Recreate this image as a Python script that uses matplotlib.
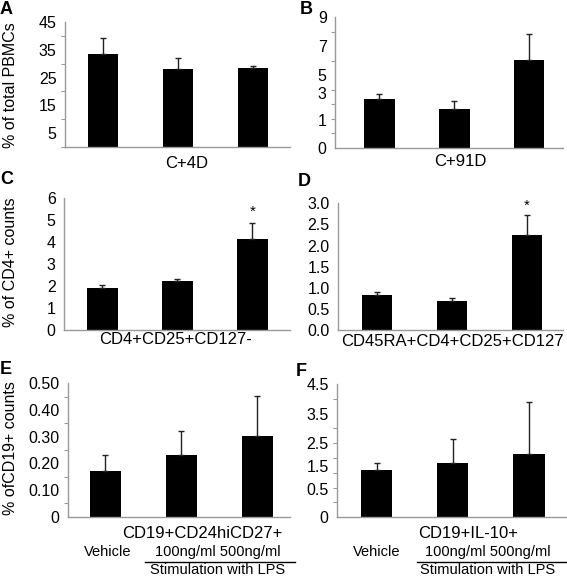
import numpy as np
import matplotlib
matplotlib.use("Agg")
from matplotlib import pyplot as plt
from matplotlib.lines import Line2D

plt.rcParams['font.family'] = ['Liberation Sans', 'DejaVu Sans']

# data (bar value, upper error)
a_vals = [33.3, 27.9, 28.4]
a_err = [6.0, 4.2, 0.8]
b_vals = [3.36, 2.67, 6.03]
b_err = [0.37, 0.57, 1.84]
c_vals = [1.93, 2.25, 4.15]
c_err = [0.12, 0.10, 0.73]
d_vals = [0.83, 0.69, 2.26]
d_err = [0.07, 0.07, 0.47]
e_vals = [0.171, 0.230, 0.302]
e_err = [0.060, 0.090, 0.152]
f_vals = [1.60, 1.82, 2.14]
f_err = [0.24, 0.81, 1.74]

a_ticks = [5, 15, 25, 35, 45]
a_labels = ['5', '15', '25', '35', '45']
b_ticks = [0, 1.9, 3.8, 5, 7, 9]
b_labels = ['0', '1', '3', '5', '7', '9']
c_ticks = [0, 1, 2, 3, 4, 5, 6]
c_labels = ['0', '1', '2', '3', '4', '5', '6']
d_ticks = [0, 0.5, 1.0, 1.5, 2.0, 2.5, 3.0]
d_labels = ['0.0', '0.5', '1.0', '1.5', '2.0', '2.5', '3.0']
e_ticks = [0, 0.1, 0.2, 0.3, 0.4, 0.5]
e_labels = ['0', '0.10', '0.20', '0.30', '0.40', '0.50']
f_ticks = [0, 0.95, 1.73, 2.52, 3.5, 4.5]
f_labels = ['0', '0.5', '1.5', '2.5', '3.5', '4.5']

W, H = 567, 576
fig = plt.figure(figsize=(W / 100, H / 100), dpi=100)


def px_axes(l, r, b, t):
    return fig.add_axes([l / W, 1 - b / H, (r - l) / W, (b - t) / H])


def ftext(x, y, s, **kw):
    # text placed by pixel position from the top-left corner
    return fig.text(x / W, 1 - y / H, s, ha=kw.pop('ha', 'center'), va=kw.pop('va', 'center'), **kw)


def panel(rect, vals, err, ymax, minor_step, ticks, labels, xlim, star=None):
    ax = px_axes(*rect)
    x = np.arange(len(vals))
    ax.bar(x, vals, width=0.41, color='black', zorder=2)
    ax.errorbar(x, vals, yerr=[np.zeros(len(vals)), err], fmt='none',
                ecolor='#222222', elinewidth=1, capsize=2, capthick=1, zorder=3)
    ax.set_xlim(*xlim)
    ax.set_ylim(0, ymax)
    for s in ['top', 'right']:
        ax.spines[s].set_visible(False)
    for s in ['left', 'bottom']:
        ax.spines[s].set_color('#999999')
        ax.spines[s].set_linewidth(1)
    ax.set_xticks([])
    ax.set_yticks(ticks)
    ax.set_yticklabels(labels)
    ax.set_yticks(np.arange(0, ymax + 1e-9, minor_step), minor=True)
    ax.tick_params(axis='y', which='major', length=0, pad=6, labelsize=11.5)
    ax.tick_params(axis='y', which='minor', length=3, color='#999999', width=0.8)
    if star is not None:
        ax.text(2, star, '*', ha='center', va='center', fontsize=11)
    return ax


panel((65, 290, 147, 22), a_vals, a_err, 45, 5, a_ticks, a_labels, (-0.507, 2.493))
panel((335, 563, 147.7, 17.3), b_vals, b_err, 9, 1, b_ticks, b_labels, (-0.595, 2.455))
panel((64, 290, 330.3, 198.3), c_vals, c_err, 6, 1, c_ticks, c_labels, (-0.507, 2.5), star=5.4)
panel((338, 563, 330, 203.3), d_vals, d_err, 3, 0.5, d_ticks, d_labels, (-0.52, 2.48), star=2.95)
panel((68, 290, 516.7, 383.3), e_vals, e_err, 0.5, 0.05, e_ticks, e_labels, (-0.49, 2.43))
panel((337, 567, 517.3, 384), f_vals, f_err, 4.5, 0.5, f_ticks, f_labels, (-0.52, 2.5))

# category labels under each panel
for xp, yp, s in [(187, 163, 'C+4D'), (460, 162, 'C+91D'), (175, 340, 'CD4+CD25+CD127-'),
                  (452, 342, 'CD45RA+CD4+CD25+CD127'), (202, 533, 'CD19+CD24hiCD27+'),
                  (468, 533, 'CD19+IL-10+')]:
    ftext(xp, yp, s, fontsize=12)

# y axis titles
ftext(11, 85, '% of total PBMCs', rotation=90, fontsize=11.5)
ftext(11, 262, '% of CD4+ counts', rotation=90, fontsize=11.5)
ftext(11, 448, '% ofCD19+ counts', rotation=90, fontsize=11.5)

# panel letters
for lab, xp, yp in [('A', 0, 10), ('B', 300, 10), ('C', 0, 180), ('D', 298, 182),
                    ('E', 0, 370), ('F', 296, 372)]:
    ftext(xp, yp, lab, ha='left', fontsize=13, fontweight='bold')

# treatment annotations under E and F
for xv, xs, x0, x1 in [(108, 218, 145, 295), (377, 488, 417, 567)]:
    ftext(xv, 552, 'Vehicle', fontsize=10.5)
    ftext(xs, 552, '100ng/ml 500ng/ml', fontsize=10.5)
    fig.add_artist(Line2D([x0 / W, x1 / W], [1 - 562 / H, 1 - 562 / H], color='black', lw=1))
    ftext(xs, 570.5, 'Stimulation with LPS', fontsize=10.5)

fig.savefig('out.png', dpi=100)
